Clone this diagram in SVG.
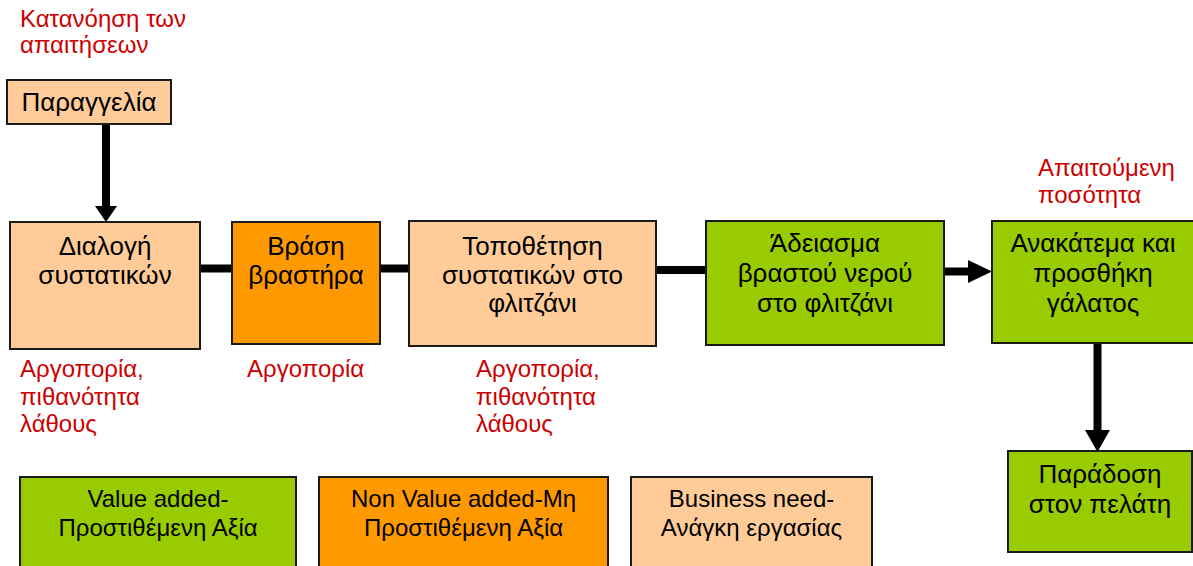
<svg xmlns="http://www.w3.org/2000/svg" width="1193" height="566" viewBox="0 0 1193 566">
<style>
.box{stroke:#1a1a1a;stroke-width:2}
.lo{fill:#FFCC99}
.or{fill:#FF9900}
.gr{fill:#99CC00}
.t{font-family:"Liberation Sans",Arial,sans-serif;font-size:26px;fill:#000;text-anchor:middle}
.r{font-family:"Liberation Sans",Arial,sans-serif;font-size:24px;fill:#CC0000}
.l{font-family:"Liberation Sans",Arial,sans-serif;font-size:24px;fill:#000;text-anchor:middle}
.c{stroke:#000;stroke-width:8;fill:none}
</style>
<rect width="1193" height="566" fill="#fff"/>
<g id="connectors">
<line class="c" x1="106" y1="125" x2="106" y2="207"/>
<polygon points="95,206 117,206 106,222" fill="#000"/>
<line class="c" x1="200" y1="268.5" x2="232" y2="268.5"/>
<line class="c" x1="380" y1="268.5" x2="409" y2="268.5"/>
<line class="c" x1="656" y1="270" x2="706" y2="270"/>
<line class="c" x1="944" y1="271.5" x2="970" y2="271.5"/>
<polygon points="968,260 968,283 992,271.5" fill="#000"/>
<line class="c" x1="1097.5" y1="343" x2="1097.5" y2="432"/>
<polygon points="1085,430 1110,430 1097.5,452" fill="#000"/>
</g>
<g id="note-requirements">
<text class="r" x="20" y="27">Κατανόηση των</text>
<text class="r" x="20" y="53">απαιτήσεων</text>
</g>
<g id="node-order">
<rect class="box lo" x="7" y="80" width="164" height="44"/>
<text class="t" x="89" y="111">Παραγγελία</text>
</g>
<g id="node-select">
<rect class="box lo" x="10" y="222" width="190" height="127"/>
<text class="t" x="105" y="255">Διαλογή</text>
<text class="t" x="105" y="284">συστατικών</text>
</g>
<g id="node-boil">
<rect class="box or" x="232" y="222" width="148" height="122"/>
<text class="t" x="306" y="255">Βράση</text>
<text class="t" x="306" y="284">βραστήρα</text>
</g>
<g id="node-place">
<rect class="box lo" x="409" y="221" width="247" height="125"/>
<text class="t" x="532.5" y="255">Τοποθέτηση</text>
<text class="t" x="532.5" y="284">συστατικών στο</text>
<text class="t" x="532.5" y="312">φλιτζάνι</text>
</g>
<g id="node-pour">
<rect class="box gr" x="706" y="221" width="238" height="124"/>
<text class="t" x="825" y="252">Άδειασμα</text>
<text class="t" x="825" y="282">βραστού νερού</text>
<text class="t" x="825" y="312">στο φλιτζάνι</text>
</g>
<g id="node-mix">
<rect class="box gr" x="992" y="221" width="203" height="122"/>
<text class="t" x="1093" y="252">Ανακάτεμα και</text>
<text class="t" x="1093" y="282">προσθήκη</text>
<text class="t" x="1093" y="312">γάλατος</text>
</g>
<g id="note-quantity">
<text class="r" x="1038" y="176">Απαιτούμενη</text>
<text class="r" x="1038" y="203">ποσότητα</text>
</g>
<g id="node-deliver">
<rect class="box gr" x="1008" y="451" width="184" height="101"/>
<text class="t" x="1100" y="483">Παράδοση</text>
<text class="t" x="1100" y="513">στον πελάτη</text>
</g>
<g id="note-select">
<text class="r" x="20" y="377">Αργοπορία,</text>
<text class="r" x="20" y="405">πιθανότητα</text>
<text class="r" x="20" y="432">λάθους</text>
</g>
<g id="note-boil">
<text class="r" x="247" y="377">Αργοπορία</text>
</g>
<g id="note-place">
<text class="r" x="476" y="377">Αργοπορία,</text>
<text class="r" x="476" y="405">πιθανότητα</text>
<text class="r" x="476" y="432">λάθους</text>
</g>
<g id="legend-value">
<rect class="box gr" x="20" y="477" width="276" height="95"/>
<text class="l" x="158" y="507">Value added-</text>
<text class="l" x="158" y="536">Προστιθέμενη Αξία</text>
</g>
<g id="legend-nonvalue">
<rect class="box or" x="319" y="477" width="289" height="95"/>
<text class="l" x="463.5" y="507">Non Value added-Μη</text>
<text class="l" x="463.5" y="536">Προστιθέμενη Αξία</text>
</g>
<g id="legend-business">
<rect class="box lo" x="631" y="477" width="241" height="95"/>
<text class="l" x="751.5" y="507">Business need-</text>
<text class="l" x="751.5" y="536">Ανάγκη εργασίας</text>
</g>
</svg>
